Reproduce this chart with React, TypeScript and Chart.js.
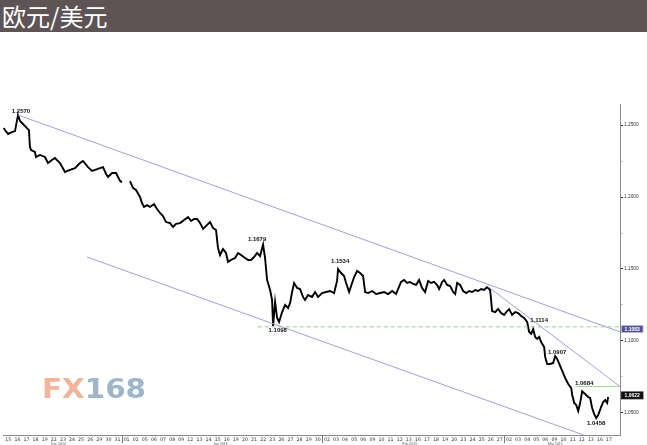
import React, { useEffect, useRef } from "react";
import { Chart, registerables } from "chart.js";

Chart.register(...registerables);

// ---- Axis categories ----
const dayLabels = [
  "15", "16", "17", "18", "19", "22", "23", "24", "25", "26", "29", "30", "31",
  "01", "02", "05", "06", "07", "08", "09", "12", "13", "14", "15", "16", "19", "20", "21", "22", "23", "26", "27", "28", "29", "30",
  "02", "03", "04", "05", "06", "09", "10", "11", "12", "13", "16", "17", "18", "19", "20", "23", "24", "25", "26", "27",
  "02", "03", "04", "05", "06", "09", "10", "11", "12", "13", "16", "17",
];
const monthNames = ["Dec 2014", "Jan 2015", "Feb 2015", "Mar 2015"];
const monthLabelDays = [6.0, 23.8, 44.6, 60.6];
const monthStartDays = [13, 35, 55];
const yTickValues = [1.05, 1.075, 1.1, 1.125, 1.15, 1.175, 1.2, 1.225, 1.25];

// ---- EUR/USD path (x = trading-day position, y = price) ----
const decDays = [0, 0.14, 0.47, 0.91, 1.24, 1.57, 1.79, 2.12, 2.55, 2.77, 2.88, 3.0, 3.43, 3.54, 3.98, 4.53, 4.86, 5.3, 5.63, 6.18, 6.73, 7.28, 7.83, 8.38, 8.71, 9.26, 9.7, 10.03, 10.58, 10.91, 11.24, 11.46, 11.9, 12.34, 12.78, 13.0];
const decPrices = [1.2479, 1.2465, 1.2438, 1.2451, 1.2458, 1.257, 1.2528, 1.2507, 1.2479, 1.2465, 1.2347, 1.2326, 1.2313, 1.2278, 1.2292, 1.2278, 1.2236, 1.2257, 1.2271, 1.2236, 1.2174, 1.2188, 1.2201, 1.2236, 1.225, 1.2208, 1.2181, 1.2188, 1.2201, 1.2208, 1.216, 1.2139, 1.2167, 1.2167, 1.2111, 1.2104];
const holidayGapDay = 13.4;
const janDays = [13.87, 14.2, 14.53, 14.97, 15.19, 15.41, 15.74, 16.07, 16.51, 16.84, 17.17, 17.5, 17.83, 18.27, 18.6, 18.93, 19.37, 19.81, 20.25, 20.58, 20.91, 21.24, 21.57, 21.9, 22.23, 22.66, 22.99, 23.32, 23.54, 23.76, 24.09, 24.42, 24.64, 24.97, 25.41, 25.74, 26.07, 26.51, 26.84, 27.17, 27.5, 27.83, 28.16, 28.49, 28.71, 28.93, 29.26, 29.48, 29.59, 29.81, 30.03, 30.25, 30.58, 30.91, 31.24, 31.46, 31.68, 31.9, 32.23, 32.55, 32.88, 33.1, 33.43, 33.87, 34.2, 34.53, 34.97];
const janPrices = [1.2111, 1.2063, 1.2049, 1.2, 1.1958, 1.1931, 1.1944, 1.1931, 1.1951, 1.1917, 1.1889, 1.1868, 1.1826, 1.1819, 1.1792, 1.1813, 1.1819, 1.184, 1.1861, 1.1833, 1.1847, 1.1847, 1.1819, 1.1778, 1.1799, 1.1826, 1.1785, 1.1771, 1.1646, 1.1597, 1.1639, 1.1611, 1.1549, 1.1563, 1.1576, 1.1611, 1.1597, 1.1576, 1.1563, 1.1563, 1.1583, 1.1611, 1.159, 1.167, 1.1576, 1.1424, 1.1354, 1.1285, 1.1105, 1.1271, 1.116, 1.1132, 1.1201, 1.125, 1.1229, 1.1264, 1.134, 1.1403, 1.1368, 1.1361, 1.1306, 1.1285, 1.1319, 1.1306, 1.134, 1.1306, 1.1333];
const febDays = [35.41, 35.85, 36.29, 36.62, 36.73, 37.06, 37.39, 37.61, 37.94, 38.16, 38.49, 38.82, 39.15, 39.48, 39.7, 40.03, 40.47, 40.91, 41.35, 41.79, 42.23, 42.67, 43.1, 43.32, 43.65, 43.98, 44.31, 44.64, 44.97, 45.3, 45.63, 45.96, 46.29, 46.62, 46.95, 47.28, 47.61, 47.83, 48.16, 48.38, 48.71, 49.04, 49.37, 49.59, 49.81, 50.14, 50.47, 50.8, 51.13, 51.46, 51.79, 52.12, 52.45, 52.77, 53.1, 53.43, 53.54, 53.65, 53.98, 54.31, 54.64, 54.97];
const febPrices = [1.134, 1.1347, 1.1333, 1.1417, 1.15, 1.1472, 1.1451, 1.1403, 1.134, 1.1382, 1.1444, 1.1486, 1.1472, 1.1451, 1.134, 1.1333, 1.1347, 1.1326, 1.1333, 1.134, 1.1326, 1.1347, 1.1326, 1.1361, 1.141, 1.1424, 1.1403, 1.141, 1.1396, 1.1389, 1.1424, 1.1368, 1.134, 1.1417, 1.1403, 1.141, 1.1389, 1.1361, 1.141, 1.1424, 1.1389, 1.1382, 1.134, 1.1326, 1.1403, 1.1389, 1.1347, 1.1333, 1.1347, 1.134, 1.1354, 1.1347, 1.1361, 1.1354, 1.1375, 1.1354, 1.1285, 1.1208, 1.1201, 1.1222, 1.1194, 1.1181];
const marDays = [55.3, 55.52, 55.85, 56.18, 56.51, 56.84, 57.17, 57.5, 57.72, 57.94, 58.16, 58.38, 58.6, 58.82, 59.04, 59.37, 59.48, 59.7, 60.03, 60.36, 60.58, 60.8, 61.13, 61.35, 61.68, 62.01, 62.34, 62.45, 62.67, 62.89, 63.11, 63.32, 63.54, 63.87, 64.2, 64.42, 64.64, 64.86, 65.08, 65.3, 65.63, 65.85, 66.07, 66.29, 66.4];
const marPrices = [1.1208, 1.1222, 1.1181, 1.1201, 1.1194, 1.1174, 1.116, 1.1132, 1.1063, 1.1049, 1.1083, 1.1028, 1.1014, 1.1028, 1.0993, 1.0958, 1.0889, 1.084, 1.084, 1.0847, 1.0895, 1.0875, 1.0826, 1.0792, 1.0743, 1.0701, 1.0674, 1.0625, 1.0569, 1.0556, 1.0514, 1.0569, 1.065, 1.0632, 1.0611, 1.0604, 1.0535, 1.0493, 1.0465, 1.0486, 1.0542, 1.0576, 1.059, 1.0569, 1.0611];

// ---- Trend / level lines ----
const upperTrendDays = [1.57, 67.7];
const upperTrendPrices = [1.257, 1.1063];
const lowerTrendDays = [9.15, 63.7];
const lowerTrendPrices = [1.1583, 1.0347];
const steepTrendDays = [53.1, 67.7];
const steepTrendPrices = [1.1382, 1.0684];
const supportDays = [27.9, 67.7];
const supportPrices = [1.1098, 1.1098];
const resistDays = [62.8, 67.7];
const resistPrices = [1.0684, 1.0684];

// ---- Annotations ----
const annotationLabels = ["1.2570", "1.1679", "1.1098", "1.1534", "1.1114", "1.0907", "1.0684", "1.0458"];
const annotationDays = [1.9, 27.83, 30.1, 36.95, 58.82, 60.8, 63.76, 65.08];
const annotationPrices = [1.2597, 1.1708, 1.1076, 1.1556, 1.1146, 1.0924, 1.0708, 1.0431];
const boxLabels = ["1.1083", "1.0622"];
const boxPrices = [1.1083, 1.0622];

const X_MIN = -0.08;
const X_MAX = 67.7;
const Y_MIN = 1.0347;
const Y_MAX = 1.2646;

const pts = (xs: number[], ys: (number | null)[]) => xs.map((x, i) => ({ x, y: ys[i] }));

export default function App() {
  const ref = useRef<HTMLCanvasElement>(null);

  useEffect(() => {
    const canvas = ref.current!;
    const days = [...decDays, holidayGapDay, ...janDays, ...febDays, ...marDays];
    const prices: (number | null)[] = [...decPrices, null, ...janPrices, ...febPrices, ...marPrices];

    const lineStyle = (color: string, dash: number[] = []) => ({
      borderColor: color,
      borderWidth: 1,
      borderDash: dash,
      pointRadius: 0,
      fill: false,
      tension: 0,
    });

    const overlay = {
      id: "overlay",
      afterDraw(chart: any) {
        const { ctx, chartArea } = chart;
        const x = chart.scales.x;
        const y = chart.scales.y;
        ctx.save();
        ctx.textAlign = "center";
        ctx.textBaseline = "middle";
        // price annotations
        ctx.font = 'bold 6px "Liberation Sans", Arial, sans-serif';
        ctx.fillStyle = "#111";
        annotationLabels.forEach((t, i) => {
          ctx.fillText(t, x.getPixelForValue(annotationDays[i]), y.getPixelForValue(annotationPrices[i]));
        });
        // day labels along the time axis
        ctx.font = '4.7px "DejaVu Sans", sans-serif';
        ctx.fillStyle = "#333";
        dayLabels.forEach((t, i) => {
          ctx.fillText(t, x.getPixelForValue(i + 0.5), chartArea.bottom + 4.6);
        });
        // month separators
        ctx.strokeStyle = "#777";
        ctx.lineWidth = 1;
        monthStartDays.forEach((d) => {
          const px = Math.round(x.getPixelForValue(d)) + 0.5;
          ctx.beginPath();
          ctx.moveTo(px, chartArea.bottom);
          ctx.lineTo(px, chartArea.bottom + 8);
          ctx.stroke();
        });
        // month names
        ctx.font = '3.5px "Liberation Sans", Arial, sans-serif';
        ctx.fillStyle = "#555";
        monthNames.forEach((t, i) => {
          ctx.fillText(t, x.getPixelForValue(monthLabelDays[i]), chartArea.bottom + 8.8);
        });
        // boxed price levels on the right axis
        const boxFill = ["#52529a", "#111111"];
        const boxStroke = ["#b8b8d8", "#111111"];
        boxLabels.forEach((t, i) => {
          const py = y.getPixelForValue(boxPrices[i]);
          const bx = chartArea.right + 1.5;
          ctx.fillStyle = boxFill[i];
          ctx.fillRect(bx, py - 3.5, 21.5, 7);
          ctx.strokeStyle = boxStroke[i];
          ctx.lineWidth = 0.8;
          ctx.strokeRect(bx, py - 3.5, 21.5, 7);
          ctx.fillStyle = "#ffffff";
          ctx.font = 'bold 5px "Liberation Sans", Arial, sans-serif';
          ctx.fillText(t, bx + 10.75, py + 0.3);
        });
        ctx.restore();
      },
    };

    const chart = new Chart(canvas, {
      type: "line",
      data: {
        datasets: [
          { data: pts(upperTrendDays, upperTrendPrices), ...lineStyle("#a0a0dc") },
          { data: pts(lowerTrendDays, lowerTrendPrices), ...lineStyle("#a0a0dc") },
          { data: pts(steepTrendDays, steepTrendPrices), ...lineStyle("#a0a0dc") },
          { data: pts(supportDays, supportPrices), ...lineStyle("#8ad48a", [4, 3]) },
          { data: pts(resistDays, resistPrices), ...lineStyle("#9adb9a") },
          {
            data: pts(days, prices),
            borderColor: "#000000",
            borderWidth: 1.9,
            pointRadius: 0,
            tension: 0,
            spanGaps: false,
            fill: false,
          },
        ] as any,
      },
      options: {
        animation: false,
        responsive: false,
        layout: { padding: { top: 72, left: 3, right: 0, bottom: 0 } },
        plugins: { legend: { display: false }, tooltip: { enabled: false } },
        scales: {
          x: {
            type: "linear",
            min: X_MIN,
            max: X_MAX,
            afterFit: (axis: any) => {
              axis.height = 10;
            },
            grid: { display: false },
            border: { display: true, color: "#8a8a8a", width: 1 },
            ticks: { display: false },
          },
          y: {
            type: "linear",
            position: "right",
            min: Y_MIN,
            max: Y_MAX,
            afterBuildTicks: (axis: any) => {
              axis.ticks = yTickValues.map((v) => ({ value: v }));
            },
            afterFit: (axis: any) => {
              axis.width = 27;
            },
            grid: {
              drawOnChartArea: false,
              drawTicks: true,
              tickLength: 3,
              color: (c: any) =>
                c.tick && Math.abs(c.tick.value * 20 - Math.round(c.tick.value * 20)) < 1e-6 ? "#333" : "#c8c8c8",
            },
            border: { display: true, color: "#8a8a8a", width: 1 },
            ticks: {
              padding: 1,
              color: "#333",
              font: { size: 4.8, family: '"Liberation Sans", Arial, sans-serif' },
              callback: (v: any) => {
                const n = Number(v);
                return Math.abs(n * 20 - Math.round(n * 20)) < 1e-6 ? n.toFixed(4) : "";
              },
            },
          },
        },
      },
      plugins: [overlay],
    });

    return () => chart.destroy();
  }, []);

  return (
    <div style={{ position: "absolute", left: 0, top: 0, width: 647, height: 445, background: "#fff", overflow: "hidden" }}>
      <div
        style={{
          position: "absolute",
          left: 0,
          top: 0,
          width: 647,
          height: 32,
          background: "#5e5456",
          color: "#fff",
          fontFamily: '"Noto Sans CJK SC", sans-serif',
          fontSize: 24,
          lineHeight: "32px",
          paddingLeft: 2,
          boxSizing: "border-box",
          whiteSpace: "nowrap",
        }}
      >
        欧元/美元
      </div>
      <canvas ref={ref} width={647} height={413} style={{ position: "absolute", left: 0, top: 32, width: 647, height: 413 }} />
      <div
        style={{
          position: "absolute",
          left: 42,
          top: 376,
          fontFamily: '"DejaVu Sans", sans-serif',
          fontWeight: "bold",
          fontSize: 26,
          lineHeight: "26px",
          letterSpacing: 0,
          whiteSpace: "nowrap",
          transform: "scaleX(1.13)",
          transformOrigin: "left top",
          pointerEvents: "none",
        }}
      >
        <span style={{ color: "#f5b39b" }}>FX</span>
        <span style={{ color: "#9db6cb" }}>168</span>
      </div>
    </div>
  );
}
